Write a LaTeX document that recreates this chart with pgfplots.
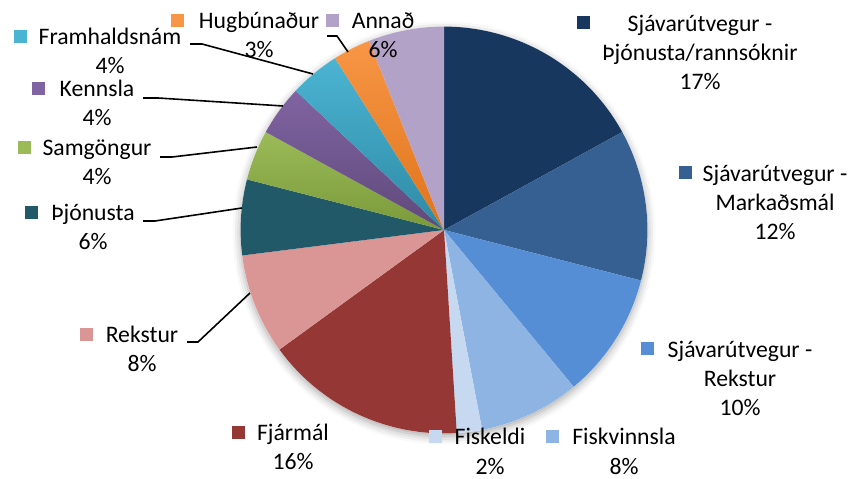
\documentclass[border=0pt]{standalone}
\usepackage{pgfplots}
\usepackage{pgfplotstable}
\pgfplotsset{compat=1.18}
\usetikzlibrary{shadows.blur}
\usepackage{fontspec}
\setmainfont{Carlito}

% slice colours (Excel 2007 palette)
\definecolor{c1}{HTML}{17375E}
\definecolor{c2}{HTML}{376092}
\definecolor{c3}{HTML}{558ED5}
\definecolor{c4}{HTML}{8EB4E3}
\definecolor{c5}{HTML}{C6D9F1}
\definecolor{c6}{HTML}{953735}
\definecolor{c7}{HTML}{D99694}
\definecolor{c8}{HTML}{215968}
\definecolor{c9}{HTML}{9BBB59}
\definecolor{c9b}{HTML}{7A9A3A}
\definecolor{c10}{HTML}{8064A2}
\definecolor{c10b}{HTML}{5F497A}
\definecolor{c11}{HTML}{4BB4D2}
\definecolor{c11b}{HTML}{2E8AA4}
\definecolor{c12}{HTML}{F79646}
\definecolor{c12b}{HTML}{E0741A}
\definecolor{c13}{HTML}{B3A2C7}

\tikzset{
  s1/.style={fill=c1}, s2/.style={fill=c2}, s3/.style={fill=c3},
  s4/.style={fill=c4}, s5/.style={fill=c5}, s6/.style={fill=c6},
  s7/.style={fill=c7}, s8/.style={fill=c8},
  s9/.style={top color=c9, bottom color=c9b},
  s10/.style={top color=c10, bottom color=c10b},
  s11/.style={top color=c11, bottom color=c11b},
  s12/.style={top color=c12, bottom color=c12b},
  s13/.style={fill=c13},
}

% share in percent, clockwise from 12 o'clock
\pgfplotstableread{
value style
17 s1
12 s2
10 s3
8  s4
2  s5
16 s6
8  s7
6  s8
4  s9
4  s10
4  s11
3  s12
6  s13
}\piedata

\newcommand{\pcx}{444}
\newcommand{\pcy}{230}
\newcommand{\prad}{3.591cm}
\newcommand{\key}[2][6.5pt]{\llap{\raisebox{1pt}{\textcolor{#2}{\rule{6.5pt}{6.5pt}}}\hspace{#1}}}

\begin{document}
\begin{tikzpicture}[lbl/.style={font=\fontsize{11.9pt}{14.8pt}\selectfont, align=center, anchor=base, inner sep=0pt}]
\begin{axis}[
    name=ax,
    hide axis,
    scale only axis,
    clip=false,
    x=0.0176471cm, y=0.0176471cm,
    xmin=0, xmax=850, ymin=0, ymax=479,
    y dir=reverse,
]
\path[fill=white, blur shadow={shadow xshift=0pt, shadow yshift=-1.5pt, shadow blur radius=4pt, shadow opacity=35}]
  (axis cs:\pcx,\pcy) circle[radius=\prad];
\xdef\cum{0}
\pgfplotsinvokeforeach{0,...,12}{
  \pgfplotstablegetelem{#1}{value}\of\piedata \let\v\pgfplotsretval
  \pgfplotstablegetelem{#1}{style}\of\piedata \let\st\pgfplotsretval
  \pgfmathsetmacro\a{90-3.6*\cum}
  \pgfmathsetmacro\ncum{\cum+\v}
  \xdef\cum{\ncum}
  \pgfmathsetmacro\b{90-3.6*\cum}
  \edef\slicecmd{\noexpand\path[\st] (axis cs:\pcx,\pcy) -- ++(\a:\prad)
    arc[start angle=\a, end angle=\b, radius=\prad] -- cycle;}
  \slicecmd
}

% leader lines
\addplot[black, line width=0.8pt] coordinates {(190,44) (202,44) (313,74)};
\addplot[black, line width=0.8pt] coordinates {(327,36) (337,36) (348,52)};
\addplot[black, line width=0.8pt] coordinates {(143,98) (158,98) (283,106)};
\addplot[black, line width=0.8pt] coordinates {(160,157) (172,157) (257,147)};
\addplot[black, line width=0.8pt] coordinates {(143,221) (155,221) (242,208)};
\addplot[black, line width=0.8pt] coordinates {(187,342) (198,342) (250,293)};

% data labels (placed at the baseline of their last line)
\node[lbl] at (axis cs:700,90) {\key[19pt]{c1}Sjávarútvegur -\\Þjónusta/rannsóknir\\17\%};
\node[lbl] at (axis cs:775,240) {\key[5.5pt]{c2}Sjávarútvegur -\\Markaðsmál\\12\%};
\node[lbl] at (axis cs:740,416) {\key[7pt]{c3}Sjávarútvegur -\\Rekstur\\10\%};
\node[lbl] at (axis cs:624,474) {\key{c4}Fiskvinnsla\\8\%};
\node[lbl] at (axis cs:490,474) {\key{c5}Fiskeldi\\2\%};
\node[lbl] at (axis cs:293,470) {\key[6pt]{c6}Fjármál\\16\%};
\node[lbl] at (axis cs:142,372) {\key{c7}Rekstur\\8\%};
\node[lbl] at (axis cs:93,250) {\key{c8}Þjónusta\\6\%};
\node[lbl] at (axis cs:97,185) {\key[6pt]{c9}Samgöngur\\4\%};
\node[lbl] at (axis cs:97,126) {\key[7.5pt]{c10}Kennsla\\4\%};
\node[lbl] at (axis cs:110,74) {\key[6pt]{c11}Framhaldsnám\\4\%};
\node[lbl] at (axis cs:259,58) {\key[7.5pt]{c12}Hugbúnaður\\3\%};
\node[lbl] at (axis cs:383,58) {\key{c13}Annað\\6\%};
\end{axis}
\pgfresetboundingbox
\useasboundingbox (ax.south west) rectangle (ax.north east);
\end{tikzpicture}
\end{document}
